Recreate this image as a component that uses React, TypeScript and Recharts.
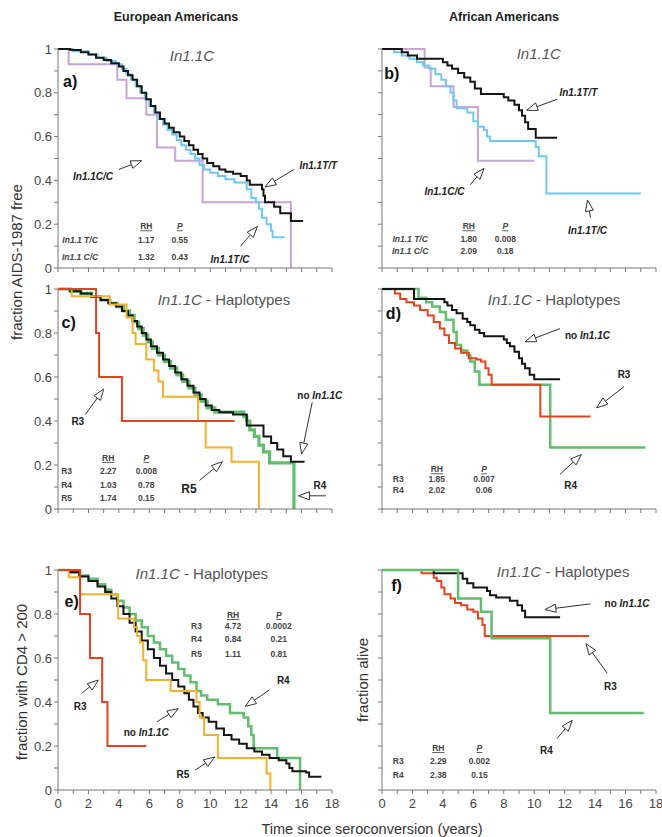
import React from 'react';
import { LineChart, Line, XAxis, YAxis, ReferenceLine, ReferenceDot } from 'recharts';

type Pt = [number, number];

const yearTicks = [0, 1, 2, 3, 4, 5, 6, 7, 8, 9, 10, 11, 12, 13, 14, 15, 16, 17, 18];
const fracTicks = [0, 0.1, 0.2, 0.3, 0.4, 0.5, 0.6, 0.7, 0.8, 0.9, 1];

// a) European Americans, AIDS-1987, In1.1C genotypes
const aTT: Pt[] = [[0, 1], [0.8, 0.995], [1.5, 0.985], [2.0, 0.975], [2.5, 0.96], [3.0, 0.95], [3.5, 0.935], [4.0, 0.92], [4.3, 0.9], [4.6, 0.88], [4.9, 0.86], [5.2, 0.83], [5.5, 0.8], [5.8, 0.77], [6.1, 0.74], [6.4, 0.71], [6.7, 0.68], [7.0, 0.66], [7.3, 0.64], [7.6, 0.62], [8.0, 0.6], [8.3, 0.58], [8.6, 0.56], [8.9, 0.54], [9.2, 0.52], [9.5, 0.5], [9.8, 0.48], [10.2, 0.465], [10.6, 0.45], [11.0, 0.44], [11.5, 0.43], [12.0, 0.42], [12.4, 0.4], [12.6, 0.38], [13.4, 0.36], [13.5, 0.33], [13.6, 0.3], [14.2, 0.28], [14.6, 0.25], [15.3, 0.215], [16.1, 0.215]];
const aTC: Pt[] = [[0, 1], [1.0, 0.99], [2.0, 0.975], [2.6, 0.96], [3.2, 0.945], [3.8, 0.93], [4.2, 0.91], [4.5, 0.885], [4.8, 0.86], [5.1, 0.83], [5.4, 0.8], [5.7, 0.77], [6.0, 0.74], [6.3, 0.71], [6.6, 0.68], [6.9, 0.655], [7.2, 0.63], [7.5, 0.61], [7.8, 0.585], [8.1, 0.56], [8.4, 0.54], [8.7, 0.52], [9.0, 0.5], [9.3, 0.47], [9.6, 0.45], [10.0, 0.435], [10.5, 0.42], [11.0, 0.405], [11.6, 0.39], [12.4, 0.36], [12.7, 0.32], [13.0, 0.3], [13.2, 0.27], [13.4, 0.23], [13.7, 0.2], [14.0, 0.17], [14.1, 0.14], [14.9, 0.14]];
const aCC: Pt[] = [[0, 1], [0.7, 0.93], [3.9, 0.86], [4.5, 0.775], [5.8, 0.7], [6.5, 0.55], [7.7, 0.49], [9.5, 0.3], [15.3, 0]];

// b) African Americans, AIDS-1987, In1.1C genotypes
const bTT: Pt[] = [[0, 1], [1.3, 0.985], [1.7, 0.97], [2.3, 0.955], [4.0, 0.94], [4.3, 0.925], [4.6, 0.91], [5.0, 0.89], [5.4, 0.87], [5.8, 0.85], [6.1, 0.82], [6.5, 0.795], [8.0, 0.78], [8.3, 0.765], [8.7, 0.745], [9.0, 0.72], [9.2, 0.695], [9.4, 0.665], [9.6, 0.635], [10.1, 0.595], [11.5, 0.595]];
const bTC: Pt[] = [[0, 1], [0.8, 0.985], [1.3, 0.97], [1.8, 0.955], [2.3, 0.94], [2.7, 0.925], [3.1, 0.91], [3.5, 0.885], [3.9, 0.86], [4.2, 0.83], [4.5, 0.8], [4.7, 0.765], [4.9, 0.73], [5.6, 0.71], [6.0, 0.67], [6.3, 0.645], [6.7, 0.63], [6.9, 0.6], [7.1, 0.58], [10.1, 0.553], [10.3, 0.51], [10.8, 0.34], [17.0, 0.34]];
const bCC: Pt[] = [[0, 1], [2.8, 0.915], [3.2, 0.83], [4.7, 0.735], [6.3, 0.49], [10.0, 0.49]];

// c) European Americans, AIDS-1987, haplotypes
const cNone: Pt[] = [[0, 1], [0.8, 0.99], [1.5, 0.98], [2.2, 0.965], [2.8, 0.95], [3.3, 0.935], [3.8, 0.92], [4.2, 0.9], [4.6, 0.88], [4.9, 0.855], [5.2, 0.83], [5.5, 0.8], [5.8, 0.77], [6.1, 0.74], [6.5, 0.71], [6.9, 0.68], [7.3, 0.65], [7.7, 0.62], [8.1, 0.59], [8.5, 0.56], [8.9, 0.53], [9.3, 0.5], [9.7, 0.47], [10.1, 0.45], [10.6, 0.44], [11.5, 0.43], [12.4, 0.38], [13.5, 0.33], [14.0, 0.3], [14.4, 0.27], [14.8, 0.24], [15.3, 0.215], [16.2, 0.215]];
const cR3: Pt[] = [[0, 1], [2.5, 0.8], [2.7, 0.6], [4.2, 0.4], [11.6, 0.4]];
const cR4: Pt[] = [[0, 1], [0.8, 0.99], [1.5, 0.98], [2.2, 0.965], [2.8, 0.95], [3.4, 0.935], [3.9, 0.92], [4.3, 0.9], [4.7, 0.88], [5.0, 0.85], [5.3, 0.82], [5.6, 0.79], [5.9, 0.76], [6.2, 0.73], [6.6, 0.7], [7.0, 0.67], [7.4, 0.64], [7.8, 0.61], [8.2, 0.58], [8.6, 0.55], [9.0, 0.52], [9.4, 0.49], [9.8, 0.46], [10.3, 0.44], [12.2, 0.42], [12.4, 0.4], [12.6, 0.36], [12.9, 0.33], [13.2, 0.29], [13.5, 0.26], [13.9, 0.21], [15.5, 0]];
const cR5: Pt[] = [[0, 1], [0.9, 0.967], [3.4, 0.93], [4.5, 0.87], [4.9, 0.8], [5.1, 0.75], [5.8, 0.68], [6.3, 0.63], [6.6, 0.58], [6.9, 0.51], [9.2, 0.4], [9.7, 0.28], [11.4, 0.215], [13.2, 0]];

// d) African Americans, AIDS-1987, haplotypes
const dNone: Pt[] = [[0, 1], [2.1, 0.955], [4.1, 0.94], [4.3, 0.925], [4.6, 0.905], [4.9, 0.89], [5.3, 0.865], [5.6, 0.85], [5.8, 0.835], [6.1, 0.815], [6.4, 0.8], [6.7, 0.785], [8.0, 0.77], [8.2, 0.755], [8.4, 0.74], [8.7, 0.715], [9.0, 0.685], [9.2, 0.66], [9.4, 0.64], [9.7, 0.61], [10.0, 0.59], [11.7, 0.59]];
const dR3: Pt[] = [[0, 1], [0.85, 0.98], [1.2, 0.955], [1.6, 0.94], [2.1, 0.925], [2.5, 0.905], [3.0, 0.88], [3.4, 0.85], [3.8, 0.82], [4.1, 0.79], [4.4, 0.755], [4.8, 0.73], [5.2, 0.71], [5.7, 0.685], [6.2, 0.68], [6.5, 0.67], [6.8, 0.64], [7.0, 0.61], [7.2, 0.565], [10.4, 0.42], [13.7, 0.42]];
const dR4: Pt[] = [[0, 1], [2.4, 0.96], [2.9, 0.94], [3.3, 0.92], [3.8, 0.895], [4.2, 0.86], [4.7, 0.805], [4.9, 0.745], [5.2, 0.72], [5.6, 0.7], [5.8, 0.67], [6.1, 0.625], [6.4, 0.565], [11.05, 0.28], [17.3, 0.28]];

// e) European Americans, CD4 > 200, haplotypes
const eNone: Pt[] = [[0, 1], [0.8, 0.99], [1.4, 0.97], [2.0, 0.95], [2.6, 0.925], [3.1, 0.9], [3.5, 0.87], [3.9, 0.835], [4.3, 0.8], [4.7, 0.76], [5.1, 0.72], [5.5, 0.68], [5.9, 0.64], [6.3, 0.6], [6.7, 0.565], [7.1, 0.53], [7.5, 0.5], [7.9, 0.47], [8.3, 0.44], [8.6, 0.41], [8.9, 0.38], [9.2, 0.35], [9.5, 0.33], [9.9, 0.31], [10.4, 0.28], [10.9, 0.25], [11.4, 0.23], [11.9, 0.21], [12.4, 0.19], [12.9, 0.175], [13.4, 0.16], [13.9, 0.145], [14.5, 0.135], [15.0, 0.12], [15.2, 0.1], [15.4, 0.085], [16.3, 0.08], [16.5, 0.06], [17.3, 0.06]];
const eR3: Pt[] = [[0, 1], [1.45, 0.8], [2.1, 0.6], [2.9, 0.4], [3.25, 0.2], [5.8, 0.2]];
const eR4: Pt[] = [[0, 1], [0.8, 0.99], [1.4, 0.975], [2.0, 0.96], [2.6, 0.935], [3.1, 0.91], [3.5, 0.89], [3.9, 0.86], [4.3, 0.83], [4.7, 0.8], [5.1, 0.77], [5.5, 0.74], [5.9, 0.7], [6.3, 0.67], [6.7, 0.64], [7.1, 0.61], [7.5, 0.58], [7.9, 0.55], [8.3, 0.52], [8.7, 0.49], [9.1, 0.45], [9.4, 0.43], [9.8, 0.41], [10.5, 0.39], [11.3, 0.35], [12.2, 0.33], [12.5, 0.29], [12.7, 0.25], [12.85, 0.19], [14.4, 0.145], [15.9, 0]];
const eR5: Pt[] = [[0, 1], [0.7, 0.967], [1.45, 0.89], [3.95, 0.78], [5.0, 0.74], [5.2, 0.7], [5.4, 0.67], [5.6, 0.59], [5.8, 0.5], [7.4, 0.45], [9.1, 0.4], [9.3, 0.33], [9.6, 0.25], [10.5, 0.145], [13.7, 0.075], [13.95, 0]];

// f) African Americans, survival, haplotypes
const fNone: Pt[] = [[0, 1], [3.4, 0.985], [5.3, 0.96], [5.6, 0.94], [6.0, 0.92], [6.9, 0.905], [7.1, 0.885], [7.5, 0.875], [8.4, 0.86], [8.9, 0.84], [9.2, 0.815], [9.4, 0.785], [11.7, 0.785]];
const fR3: Pt[] = [[0, 1], [2.6, 0.985], [3.4, 0.965], [3.6, 0.95], [3.9, 0.92], [4.1, 0.89], [4.5, 0.87], [4.8, 0.85], [5.2, 0.84], [5.6, 0.82], [6.0, 0.81], [6.3, 0.78], [6.6, 0.75], [6.75, 0.7], [13.6, 0.7]];
const fR4: Pt[] = [[0, 1], [5.0, 0.87], [6.5, 0.81], [7.2, 0.69], [11.05, 0.35], [17.2, 0.35]];

// relative hazards table
const genoRows = ['In1.1 T/C', 'In1.1 C/C'];
const aRH = ['1.17', '1.32'];
const aP = ['0.55', '0.43'];
const bRH = ['1.80', '2.09'];
const bP = ['0.008', '0.18'];
const cRows = ['R3', 'R4', 'R5'];
const cRH = ['2.27', '1.03', '1.74'];
const cP = ['0.008', '0.78', '0.15'];
const dRows = ['R3', 'R4'];
const dRH = ['1.85', '2.02'];
const dP = ['0.007', '0.06'];
const eRows = ['R3', 'R4', 'R5'];
const eRH = ['4.72', '0.84', '1.11'];
const eP = ['0.0002', '0.21', '0.81'];
const fRows = ['R3', 'R4'];
const fRH = ['2.29', '2.38'];
const fP = ['0.002', '0.15'];

const FONT = '"Liberation Sans", Arial, Helvetica, sans-serif';
const COL = {
  black: '#151515',
  blue: '#6fc8ef',
  pink: '#c9a2d6',
  red: '#e5431f',
  orange: '#f2b12c',
  green: '#62bd6f',
};

const PW = 274;
const MR = 26;

function arrowShape(p: any) {
  const { x1, y1, x2, y2 } = p;
  const dx = x2 - x1;
  const dy = y2 - y1;
  const len = Math.hypot(dx, dy) || 1;
  const ux = dx / len;
  const uy = dy / len;
  const hl = 11;
  const hw = 4;
  const bx = x2 - ux * hl;
  const by = y2 - uy * hl;
  const pts = `${x2},${y2} ${bx - uy * hw},${by + ux * hw} ${bx + uy * hw},${by - ux * hw}`;
  return (
    <g>
      <line x1={x1} y1={y1} x2={bx} y2={by} stroke="#333" strokeWidth={1} />
      <polygon points={pts} fill="#fff" stroke="#333" strokeWidth={1} />
    </g>
  );
}

const arrow = (key: string, from: Pt, to: Pt) => (
  <ReferenceLine
    key={key}
    segment={[{ x: from[0], y: from[1] }, { x: to[0], y: to[1] }]}
    ifOverflow="visible"
    shape={arrowShape}
  />
);

const note = (key: string, at: Pt, content: React.ReactNode, style: React.CSSProperties, anchor = 'middle') => (
  <ReferenceDot
    key={key}
    x={at[0]}
    y={at[1]}
    r={0}
    ifOverflow="visible"
    shape={(p: any) => (
      <text x={p.cx} y={p.cy} dy="0.35em" textAnchor={anchor} style={{ fontFamily: FONT, ...style }}>
        {content}
      </text>
    )}
  />
);

const labelStyle: React.CSSProperties = { fontSize: 10, fontWeight: 'bold', fill: '#222' };
const letterStyle: React.CSSProperties = { fontSize: 16, fontWeight: 'bold', fill: '#111' };
const titleStyle: React.CSSProperties = { fontSize: 15, fill: '#555' };
const statStyle: React.CSSProperties = { fontSize: 8.5, fontWeight: 'bold', fill: '#444' };

const geno = (k: string, at: Pt, txt: string) => note(k, at, txt, { ...labelStyle, fontStyle: 'italic' });
const noIn = (k: string, at: Pt) =>
  note(k, at, [<tspan key="n">no </tspan>, <tspan key="i" fontStyle="italic">In1.1C</tspan>], labelStyle);
const hapTitle = (k: string, at: Pt) =>
  note(k, at, [<tspan key="i" fontStyle="italic">In1.1C</tspan>, <tspan key="h"> - Haplotypes</tspan>], titleStyle);

function stats(k: string, xs: [number, number, number], ys: number[], rows: string[], rh: string[], p: string[], italicRows: boolean) {
  const out = [
    note(`${k}-rh`, [xs[1], ys[0]], 'RH', { ...statStyle, textDecoration: 'underline' }),
    note(`${k}-p`, [xs[2], ys[0]], 'P', { ...statStyle, fontStyle: 'italic', textDecoration: 'underline' }),
  ];
  rows.forEach((r, i) => {
    const y = ys[i + 1];
    out.push(note(`${k}-r${i}`, [xs[0], y], r, { ...statStyle, fontStyle: italicRows ? 'italic' : 'normal' }));
    out.push(note(`${k}-h${i}`, [xs[1], y], rh[i], statStyle));
    out.push(note(`${k}-q${i}`, [xs[2], y], p[i], statStyle));
  });
  return out;
}

type Curve = { pts: Pt[]; color: string; width?: number };

function Panel({ left, top, height, curves, notes, yLabels, xLabels }: {
  left: number; top: number; height: number; curves: Curve[]; notes: React.ReactNode[]; yLabels: boolean; xLabels: boolean;
}) {
  return (
    <div style={{ position: 'absolute', left: left - 40, top: top - 10 }}>
      <LineChart width={40 + PW + MR} height={10 + height + 30} margin={{ top: 10, right: MR, bottom: 0, left: 0 }}>
        <XAxis
          type="number"
          dataKey="t"
          domain={[0, 18]}
          ticks={yearTicks}
          interval={0}
          height={30}
          stroke="#777"
          tickSize={4}
          tickMargin={5}
          tick={{ fill: '#444', fontSize: 13, fontFamily: FONT }}
          tickFormatter={(v: number) => (xLabels && v % 2 === 0 ? String(v) : '')}
        />
        <YAxis
          type="number"
          domain={[0, 1]}
          ticks={fracTicks}
          interval={0}
          width={40}
          stroke="#777"
          tickSize={4}
          tickMargin={2}
          tick={{ fill: '#444', fontSize: 13, fontFamily: FONT }}
          tickFormatter={(v: number) => (yLabels && Math.round(v * 10) % 2 === 0 ? String(v) : '')}
        />
        {curves.map((c, i) => (
          <Line
            key={i}
            data={c.pts.map(([t, s]) => ({ t, s }))}
            dataKey="s"
            type="stepAfter"
            stroke={c.color}
            strokeWidth={c.width ?? 2}
            dot={false}
            activeDot={false}
            isAnimationActive={false}
          />
        ))}
        {notes}
      </LineChart>
    </div>
  );
}

const LX = 58;
const RX = 382;

export default function App() {
  return (
    <div style={{ position: 'absolute', left: 0, top: 0, width: 662, height: 837, background: '#fff', overflow: 'hidden', fontFamily: FONT }}>
      <svg width={662} height={837} style={{ position: 'absolute', left: 0, top: 0 }}>
        <text x={176} y={21} textAnchor="middle" style={{ fontSize: 12.5, fontWeight: 'bold', fill: '#222' }}>European Americans</text>
        <text x={504} y={21} textAnchor="middle" style={{ fontSize: 12.5, fontWeight: 'bold', fill: '#222' }}>African Americans</text>
        <text transform="translate(22,262) rotate(-90)" textAnchor="middle" style={{ fontSize: 15, fill: '#333' }}>fraction AIDS-1987 free</text>
        <text transform="translate(27,682) rotate(-90)" textAnchor="middle" style={{ fontSize: 15, fill: '#333' }}>fraction with CD4 &gt; 200</text>
        <text transform="translate(368,680) rotate(-90)" textAnchor="middle" style={{ fontSize: 15, fill: '#333' }}>fraction alive</text>
        <text x={372} y={834} textAnchor="middle" style={{ fontSize: 14.5, fill: '#333' }}>Time since seroconversion (years)</text>
      </svg>

      <Panel
        left={LX}
        top={49}
        height={219}
        yLabels
        xLabels={false}
        curves={[
          { pts: aCC, color: COL.pink },
          { pts: aTC, color: COL.blue },
          { pts: aTT, color: COL.black },
        ]}
        notes={[
          note('a-l', [0.8, 0.85], 'a)', letterStyle),
          note('a-t', [8.8, 0.97], 'In1.1C', { ...titleStyle, fontStyle: 'italic' }),
          geno('a-cc', [2.3, 0.42], 'In1.1C/C'),
          arrow('a-cca', [4.0, 0.45], [5.5, 0.49]),
          geno('a-tt', [17.1, 0.47], 'In1.1T/T'),
          arrow('a-tta', [15.5, 0.45], [13.6, 0.37]),
          geno('a-tc', [11.3, 0.04], 'In1.1T/C'),
          arrow('a-tca', [12.0, 0.1], [13.1, 0.19]),
          ...stats('a-s', [1.45, 5.8, 8.0], [0.19, 0.13, 0.05], genoRows, aRH, aP, true),
        ]}
      />

      <Panel
        left={RX}
        top={49}
        height={219}
        yLabels={false}
        xLabels={false}
        curves={[
          { pts: bCC, color: COL.pink },
          { pts: bTC, color: COL.blue },
          { pts: bTT, color: COL.black },
        ]}
        notes={[
          note('b-l', [0.64, 0.89], 'b)', letterStyle),
          note('b-t', [10.3, 0.98], 'In1.1C', { ...titleStyle, fontStyle: 'italic' }),
          geno('b-tt', [12.9, 0.8], 'In1.1T/T'),
          arrow('b-tta', [11.5, 0.77], [9.5, 0.72]),
          geno('b-cc', [4.1, 0.35], 'In1.1C/C'),
          arrow('b-cca', [5.8, 0.38], [6.7, 0.455]),
          geno('b-tc', [13.5, 0.17], 'In1.1T/C'),
          arrow('b-tca', [13.7, 0.23], [13.5, 0.31]),
          ...stats('b-s', [1.85, 5.7, 8.1], [0.19, 0.133, 0.079], genoRows, bRH, bP, true),
        ]}
      />

      <Panel
        left={LX}
        top={289}
        height={220}
        yLabels
        xLabels={false}
        curves={[
          { pts: cR4, color: COL.green, width: 3.2 },
          { pts: cNone, color: COL.black },
          { pts: cR5, color: COL.orange },
          { pts: cR3, color: COL.red },
        ]}
        notes={[
          note('c-l', [0.7, 0.85], 'c)', letterStyle),
          hapTitle('c-t', [10.9, 0.95]),
          note('c-r3', [1.3, 0.4], 'R3', labelStyle),
          arrow('c-r3a', [1.8, 0.43], [3.0, 0.545]),
          note('c-r5', [8.6, 0.09], 'R5', { ...labelStyle, fontSize: 12 }),
          arrow('c-r5a', [9.3, 0.13], [10.8, 0.215]),
          noIn('c-no', [17.2, 0.515]),
          arrow('c-noa', [16.7, 0.485], [16.0, 0.25]),
          note('c-r4', [17.2, 0.105], 'R4', labelStyle),
          arrow('c-r4a', [17.6, 0.06], [15.8, 0.06]),
          ...stats('c-s', [0.57, 3.3, 5.8], [0.232, 0.174, 0.11, 0.048], cRows, cRH, cP, false),
        ]}
      />

      <Panel
        left={RX}
        top={289}
        height={220}
        yLabels={false}
        xLabels={false}
        curves={[
          { pts: dR4, color: COL.green, width: 2.5 },
          { pts: dR3, color: COL.red },
          { pts: dNone, color: COL.black },
        ]}
        notes={[
          note('d-l', [0.75, 0.89], 'd)', letterStyle),
          hapTitle('d-t', [11.3, 0.95]),
          noIn('d-no', [13.5, 0.79]),
          arrow('d-noa', [11.7, 0.82], [9.4, 0.76]),
          note('d-r3', [15.9, 0.61], 'R3', labelStyle),
          arrow('d-r3a', [15.9, 0.556], [14.1, 0.46]),
          note('d-r4', [12.4, 0.105], 'R4', labelStyle),
          arrow('d-r4a', [11.7, 0.158], [13.1, 0.248]),
          ...stats('d-s', [1.07, 3.6, 6.7], [0.18, 0.135, 0.086], dRows, dRH, dP, false),
        ]}
      />

      <Panel
        left={LX}
        top={570}
        height={220}
        yLabels
        xLabels
        curves={[
          { pts: eR4, color: COL.green, width: 2.5 },
          { pts: eNone, color: COL.black },
          { pts: eR5, color: COL.orange },
          { pts: eR3, color: COL.red },
        ]}
        notes={[
          note('e-l', [0.9, 0.856], 'e)', letterStyle),
          hapTitle('e-t', [9.45, 0.985]),
          ...stats('e-s', [9.1, 11.5, 14.5], [0.795, 0.745, 0.685, 0.62], eRows, eRH, eP, false),
          note('e-r3', [1.45, 0.38], 'R3', labelStyle),
          arrow('e-r3a', [1.56, 0.44], [2.65, 0.5]),
          noIn('e-no', [5.8, 0.26]),
          arrow('e-noa', [6.5, 0.31], [7.9, 0.37]),
          note('e-r4', [14.8, 0.5], 'R4', labelStyle),
          arrow('e-r4a', [13.9, 0.455], [12.3, 0.38]),
          note('e-r5', [8.2, 0.07], 'R5', labelStyle),
          arrow('e-r5a', [9.0, 0.09], [10.3, 0.15]),
        ]}
      />

      <Panel
        left={RX}
        top={570}
        height={220}
        yLabels={false}
        xLabels
        curves={[
          { pts: fR3, color: COL.red },
          { pts: fNone, color: COL.black },
          { pts: fR4, color: COL.green, width: 2.5 },
        ]}
        notes={[
          note('f-l', [0.96, 0.93], 'f)', letterStyle),
          hapTitle('f-t', [11.9, 0.99]),
          noIn('f-no', [16.1, 0.846]),
          arrow('f-noa', [13.7, 0.846], [10.7, 0.82]),
          note('f-r3', [15.0, 0.47], 'R3', labelStyle),
          arrow('f-r3a', [14.8, 0.53], [13.4, 0.665]),
          note('f-r4', [10.8, 0.18], 'R4', labelStyle),
          arrow('f-r4a', [11.5, 0.234], [12.5, 0.317]),
          ...stats('f-s', [1.07, 3.7, 6.4], [0.19, 0.133, 0.068], fRows, fRH, fP, false),
        ]}
      />
    </div>
  );
}
